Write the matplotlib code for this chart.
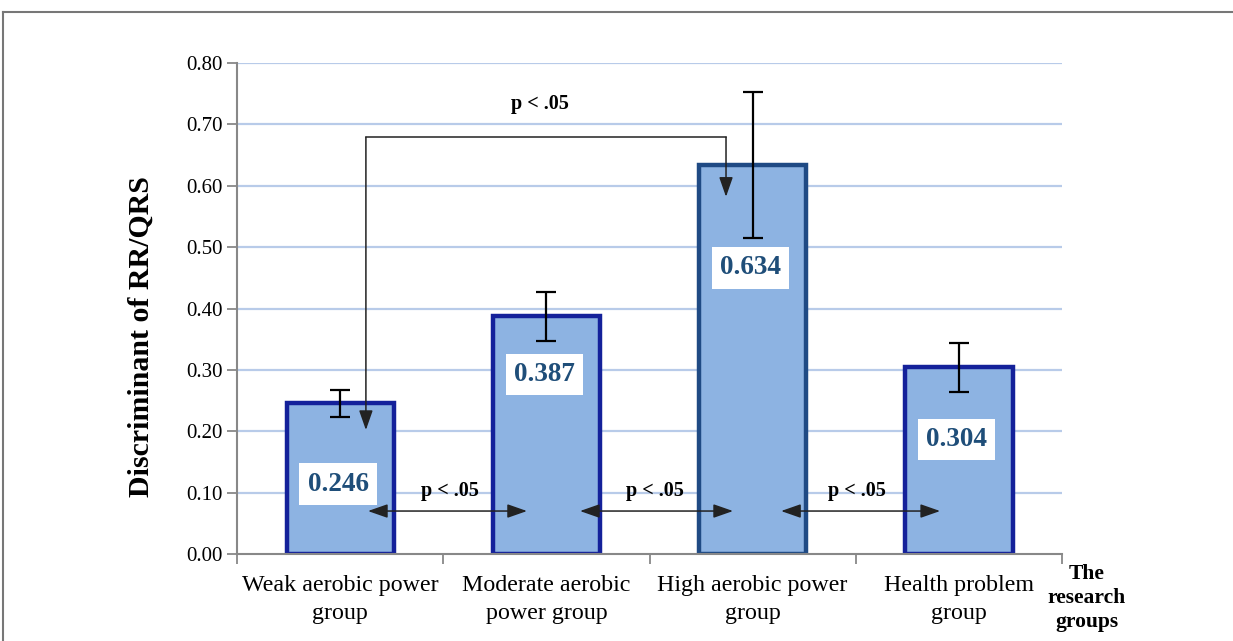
import numpy as np
import matplotlib.pyplot as plt
from matplotlib.lines import Line2D

plt.rcParams["font.family"] = ["Liberation Serif", "DejaVu Serif"]

groups = ["Weak aerobic power\ngroup", "Moderate aerobic\npower group",
          "High aerobic power\ngroup", "Health problem\ngroup"]
means = [0.246, 0.387, 0.634, 0.304]
errs = [0.022, 0.040, 0.119, 0.040]
value_labels = ["0.246", "0.387", "0.634", "0.304"]
label_y = [0.114, 0.293, 0.466, 0.187]   # where the white value boxes sit
yticks = np.arange(0, 0.81, 0.1)

FILL = "#8db3e2"
EDGE = ["#14219a", "#14219a", "#1f4a84", "#14219a"]
GRID = "#b8cbe9"
TXT_BLUE = "#1f4e79"

fig = plt.figure(figsize=(12.33, 6.41), dpi=100)
ax = fig.add_axes([237 / 1233, 1 - 554 / 641, (1062 - 237) / 1233, (554 - 63) / 641])

x = np.arange(len(groups))
ax.set_axisbelow(True)
for yv in yticks[1:]:
    ax.axhline(yv, color=GRID, lw=1.6, zorder=0)
ax.bar(x, means, width=0.52, color=FILL, edgecolor=EDGE, linewidth=3.2, zorder=2)
ax.errorbar(x, means, yerr=errs, fmt="none", ecolor="black", elinewidth=1.6,
            capsize=7, capthick=1.6, zorder=4)

for xi, yl, s in zip(x, label_y, value_labels):
    ax.text(xi - 0.01, yl, s, ha="center", va="center", fontsize=19.5, fontweight="bold",
            color=TXT_BLUE, zorder=5,
            bbox=dict(boxstyle="square,pad=0.3", fc="white", ec="none"))

ax.set_xlim(-0.5, 3.5)
ax.set_ylim(0, 0.8)
ax.set_yticks(yticks)
ax.set_yticklabels([f"{v:.2f}" for v in yticks], fontsize=15)
ax.set_xticks(x)
ax.set_xticklabels(groups, fontsize=17.3, linespacing=1.45)
ax.tick_params(axis="x", which="major", length=0, pad=15)
ax.set_xticks(np.arange(-0.5, 3.6, 1), minor=True)
ax.tick_params(axis="x", which="minor", length=7, color="#888888", width=1.3)
ax.tick_params(axis="y", length=7, color="#888888", width=1.3, pad=3)
for sp in ["top", "right"]:
    ax.spines[sp].set_visible(False)
for sp in ["left", "bottom"]:
    ax.spines[sp].set_color("#888888")
    ax.spines[sp].set_linewidth(1.5)

ax.set_ylabel("Discriminant of RR/QRS", fontsize=21.5, fontweight="bold")
ax.yaxis.set_label_coords(-0.100, 0.442)
fig.text(1087 / 1233, 1 - 598 / 641, "The\nresearch\ngroups", ha="center", va="center",
         fontsize=15.5, fontweight="bold", linespacing=1.28)

# significance markers
arrow_kw = dict(arrowstyle="-|>,head_length=1.2,head_width=0.42", color="#222222", lw=1.1,
                shrinkA=0, shrinkB=0)
x1, x2, ytop = 0.125, 1.871, 0.679
ax.plot([x1, x2], [ytop, ytop], color="#222222", lw=1.1, zorder=6)
ax.annotate("", xy=(x1, 0.202), xytext=(x1, ytop), arrowprops=arrow_kw, zorder=6)
ax.annotate("", xy=(x2, 0.582), xytext=(x2, ytop), arrowprops=arrow_kw, zorder=6)
ax.text(0.969, 0.733, "p < .05", ha="center", va="center", fontsize=14.5, fontweight="bold")

dbl_kw = dict(arrowstyle="<|-|>,head_length=1.2,head_width=0.42", color="#222222", lw=1.1,
              shrinkA=0, shrinkB=0)
pairs = [(0.135, 0.906, 0.533), (1.163, 1.905, 1.527), (2.138, 2.909, 2.506)]
for a, b, tx in pairs:
    ax.annotate("", xy=(b, 0.070), xytext=(a, 0.070), arrowprops=dbl_kw, zorder=6)
    ax.text(tx, 0.103, "p < .05", ha="center", va="center", fontsize=14.5, fontweight="bold")

# outer frame (top and left edges)
fig.add_artist(Line2D([3 / 1233, 1], [1 - 12 / 641, 1 - 12 / 641], color="#777777", lw=1.5))
fig.add_artist(Line2D([3 / 1233, 3 / 1233], [0, 1 - 12 / 641], color="#777777", lw=1.5))

fig.savefig("out.png", dpi=100)
